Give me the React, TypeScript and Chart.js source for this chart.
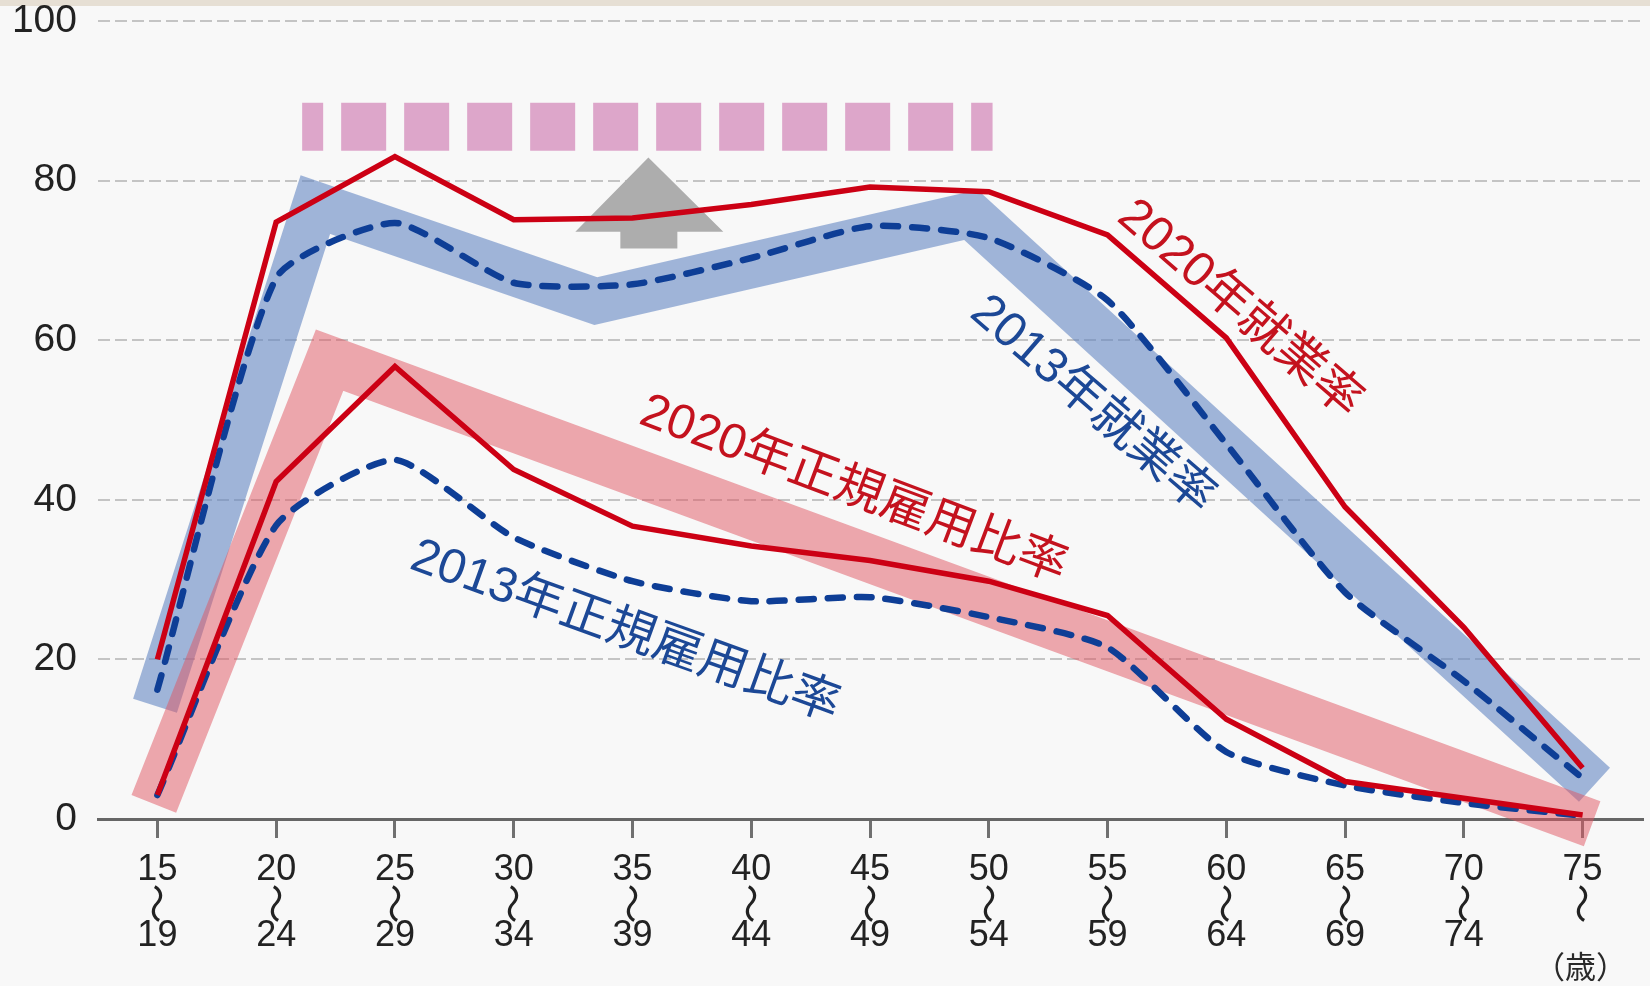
import { useEffect, useRef } from 'react';
import { Chart, registerables } from 'chart.js';

Chart.register(...registerables);

// Age groups (start / end of each 5-year bracket)
const ageStarts = ['15', '20', '25', '30', '35', '40', '45', '50', '55', '60', '65', '70', '75'];
const ageEnds = ['19', '24', '29', '34', '39', '44', '49', '54', '59', '64', '69', '74', ''];

// Rates in % by age group
const employment2020 = [20.0, 74.8, 83.0, 75.1, 75.3, 77.0, 79.2, 78.6, 73.2, 60.3, 39.1, 24.0, 6.4];
const employment2013 = [16.2, 67.8, 74.7, 67.2, 67.0, 70.3, 74.3, 72.8, 65.0, 47.0, 28.4, 17.3, 5.1];
const regular2020 = [3.0, 42.3, 56.7, 43.8, 36.7, 34.2, 32.4, 29.8, 25.5, 12.5, 4.7, 2.6, 0.5];
const regular2013 = [3.0, 36.8, 45.0, 35.3, 29.8, 27.3, 27.8, 25.3, 21.5, 8.4, 4.2, 2.0, 0.4];

const yTicks = [0, 20, 40, 60, 80, 100];

// Illustrative shapes, in (age-group index, %) coordinates
const mCurveBand: [number, number][] = [[-0.02, 14.2], [1.33, 77.0], [3.69, 64.9], [6.85, 75.7], [12.1, 4.3]];
const lCurveBand: [number, number][] = [[-0.03, 1.9], [1.45, 57.5], [12.08, -0.6]];
const targetLevel: [number, number][] = [[1.219, 86.76], [7.032, 86.76]];
const upArrow: [number, number][] = [
  [4.134, 82.9], [4.765, 73.6], [4.378, 73.6], [4.378, 71.5],
  [3.898, 71.5], [3.898, 73.6], [3.519, 73.6],
];

const RED = 'rgb(204, 0, 20)';
const BLUE = 'rgb(14, 62, 150)';
const RED_TEXT = 'rgb(196, 18, 30)';
const BLUE_TEXT = 'rgb(28, 72, 150)';

// Series captions placed along the curves
const captions = [
  { text: '2020年就業率', x: 9.113, y: 63.9, angle: 40.8, color: RED_TEXT },
  { text: '2013年就業率', x: 7.874, y: 51.9, angle: 40.8, color: BLUE_TEXT },
  { text: '2020年正規雇用比率', x: 5.861, y: 41.25, angle: 20.6, color: RED_TEXT },
  { text: '2013年正規雇用比率', x: 3.94, y: 23.45, angle: 19.8, color: BLUE_TEXT },
];

const rangeMark = '〜';
const unitLabel = '（歳）';

const LATIN = '"Liberation Sans", Arial, sans-serif';
const MIXED = '"Liberation Sans", "Noto Sans CJK JP", sans-serif';
const CJK = '"Noto Sans CJK JP", sans-serif';

// x-axis label geometry
const TICK_LEN = 19;
const TICK_PAD = 16;
const TICK_LINE = 33;

const series = (values: number[]) => values.map((y, i) => ({ x: i, y }));
const shape = (pts: [number, number][]) => pts.map(([x, y]) => ({ x, y }));

const decorPlugin = {
  id: 'decor',
  beforeDraw(chart: any) {
    const { ctx, width, height } = chart;
    ctx.save();
    ctx.fillStyle = '#f8f8f8';
    ctx.fillRect(0, 0, width, height);
    ctx.fillStyle = '#e6dfd4';
    ctx.fillRect(0, 0, width, 6);
    ctx.restore();
  },
  afterDatasetsDraw(chart: any) {
    const { ctx, scales } = chart;
    const xs = scales.x;
    const ys = scales.y;
    ctx.save();
    ctx.font = `49px ${MIXED}`;
    ctx.textAlign = 'center';
    ctx.textBaseline = 'middle';
    for (const c of captions) {
      ctx.save();
      ctx.translate(xs.getPixelForValue(c.x), ys.getPixelForValue(c.y));
      ctx.rotate((c.angle * Math.PI) / 180);
      ctx.fillStyle = c.color;
      ctx.fillText(c.text, 0, 0);
      ctx.restore();
    }
    ctx.restore();
  },
  afterDraw(chart: any) {
    const { ctx, scales } = chart;
    const xs = scales.x;
    const waveY = xs.top + TICK_LEN + TICK_PAD + TICK_LINE * 1.5;
    ctx.save();
    // vertical range mark between the two ends of each age bracket
    ctx.fillStyle = '#222';
    ctx.font = `40px ${CJK}`;
    ctx.textAlign = 'center';
    ctx.textBaseline = 'middle';
    ageStarts.forEach((_, i) => {
      ctx.save();
      ctx.translate(xs.getPixelForValue(i), waveY);
      ctx.rotate(Math.PI / 2);
      ctx.fillText(rangeMark, 0, 0);
      ctx.restore();
    });
    ctx.font = `31px ${CJK}`;
    ctx.fillStyle = '#2a2a2a';
    ctx.fillText(unitLabel, xs.getPixelForValue(ageStarts.length - 1) - 2, 966);
    ctx.restore();
  },
};

export default function App() {
  const canvasRef = useRef<HTMLCanvasElement>(null);

  useEffect(() => {
    const canvas = canvasRef.current;
    if (!canvas) return;

    const chart = new Chart(canvas, {
      type: 'line',
      data: {
        datasets: [
          {
            label: '2020年就業率',
            data: series(employment2020),
            borderColor: RED,
            borderWidth: 5.5,
            tension: 0,
            borderJoinStyle: 'miter',
            pointRadius: 0,
            order: 0,
          },
          {
            label: '2020年正規雇用比率',
            data: series(regular2020),
            borderColor: RED,
            borderWidth: 5.5,
            tension: 0,
            borderJoinStyle: 'miter',
            pointRadius: 0,
            order: 1,
          },
          {
            label: '2013年就業率',
            data: series(employment2013),
            borderColor: BLUE,
            borderWidth: 6.5,
            borderDash: [15, 14],
            borderCapStyle: 'round',
            tension: 0.2,
            pointRadius: 0,
            order: 2,
          },
          {
            label: '2013年正規雇用比率',
            data: series(regular2013),
            borderColor: BLUE,
            borderWidth: 6.5,
            borderDash: [15, 14],
            borderCapStyle: 'round',
            tension: 0.2,
            pointRadius: 0,
            order: 3,
          },
          {
            label: 'arrow',
            data: shape(upArrow),
            borderColor: 'rgba(0,0,0,0)',
            borderWidth: 0,
            backgroundColor: '#adadad',
            fill: 'shape',
            pointRadius: 0,
            order: 5,
          },
          {
            label: 'target',
            data: shape(targetLevel),
            borderColor: 'rgb(221, 166, 202)',
            borderWidth: 48,
            borderDash: [45, 18],
            borderDashOffset: 24,
            borderCapStyle: 'butt',
            pointRadius: 0,
            clip: false,
            order: 6,
          },
          {
            label: 'L-curve',
            data: shape(lCurveBand),
            borderColor: 'rgba(223, 84, 96, 0.5)',
            borderWidth: 48,
            borderJoinStyle: 'miter',
            borderCapStyle: 'butt',
            pointRadius: 0,
            clip: false,
            order: 7,
          },
          {
            label: 'M-curve',
            data: shape(mCurveBand),
            borderColor: 'rgba(100, 135, 195, 0.6)',
            borderWidth: 46,
            borderJoinStyle: 'miter',
            borderCapStyle: 'butt',
            pointRadius: 0,
            clip: false,
            order: 8,
          },
        ],
      },
      options: {
        animation: false,
        responsive: false,
        devicePixelRatio: 1,
        events: [],
        layout: { padding: { top: 21, right: 8, left: 0, bottom: 0 } },
        plugins: {
          legend: { display: false },
          tooltip: { enabled: false },
        },
        scales: {
          x: {
            type: 'linear',
            min: -0.5,
            max: 12.5,
            afterBuildTicks: (s: any) => {
              s.ticks = ageStarts.map((_, i) => ({ value: i }));
            },
            afterFit: (s: any) => {
              s.height = 167;
              s.paddingLeft = 0;
              s.paddingRight = 0;
            },
            ticks: {
              autoSkip: false,
              maxRotation: 0,
              minRotation: 0,
              padding: TICK_PAD,
              color: '#222',
              font: { family: LATIN, size: 36, lineHeight: TICK_LINE / 36 },
              callback: (v: any) => {
                const i = Math.round(Number(v));
                return ageEnds[i] ? [ageStarts[i], '', ageEnds[i]] : [ageStarts[i], ''];
              },
            },
            grid: {
              drawOnChartArea: false,
              drawTicks: true,
              tickLength: TICK_LEN,
              color: '#707070',
              lineWidth: 3,
            },
            border: { display: true, color: '#666', width: 3 },
          },
          y: {
            min: 0,
            max: 100,
            afterBuildTicks: (s: any) => {
              s.ticks = yTicks.map((v) => ({ value: v }));
            },
            afterFit: (s: any) => {
              s.width = 98;
              s.paddingTop = 0;
              s.paddingBottom = 0;
            },
            ticks: {
              padding: 21,
              color: '#222',
              font: { family: LATIN, size: 39 },
            },
            grid: {
              color: (c: any) => (c.tick && c.tick.value === 0 ? 'rgba(0,0,0,0)' : '#c4c4c4'),
              lineWidth: 2,
              drawTicks: false,
            },
            border: { display: false, dash: [12, 5] },
          },
        },
      },
      plugins: [decorPlugin],
    } as any);

    return () => chart.destroy();
  }, []);

  return (
    <div style={{ position: 'fixed', left: 0, top: 0, width: 1650, height: 986 }}>
      <canvas ref={canvasRef} width={1650} height={986} style={{ display: 'block' }} />
    </div>
  );
}
